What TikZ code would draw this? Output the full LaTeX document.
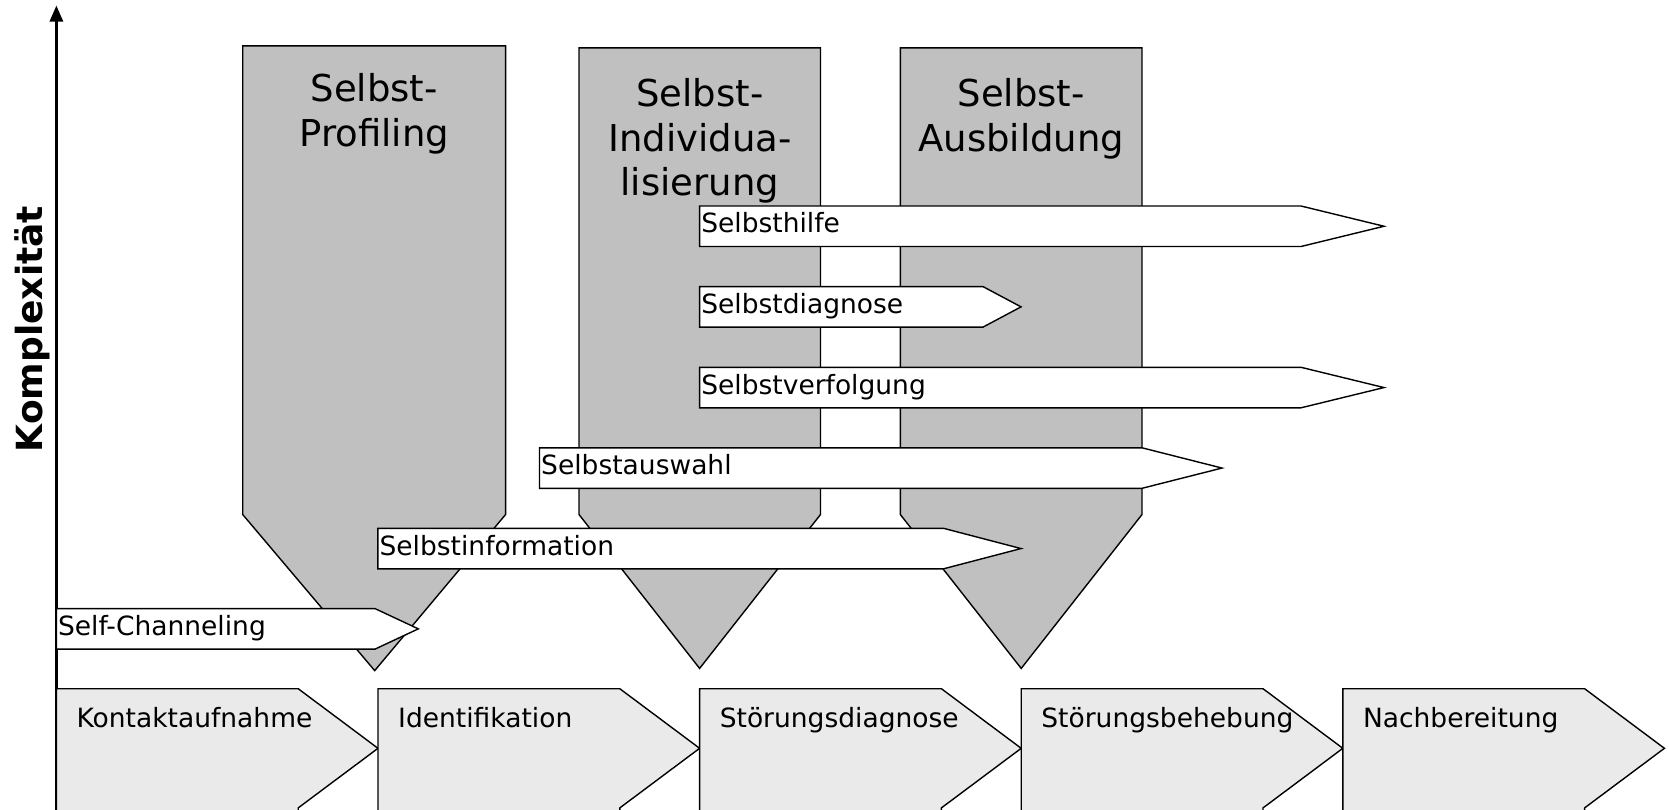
\documentclass[tikz,border=0pt]{standalone}
\usepackage{fontspec}
\setmainfont{DejaVu Sans}
\usetikzlibrary{arrows.meta}
\definecolor{boxgray}{RGB}{192,192,192}
\definecolor{procgray}{RGB}{234,234,234}
\tikzset{
  colbox/.style={draw=black, fill=boxgray, line width=1.4pt, line join=miter},
  sarrow/.style={draw=black, fill=white, line width=1.4pt, line join=miter},
  proc/.style={draw=black, fill=procgray, line width=1.4pt, line join=miter},
  ttl/.style={font=\fontsize{37}{44.5}\selectfont, align=center, anchor=north, inner sep=0pt},
  alabel/.style={font=\fontsize{26.5}{30}\selectfont, anchor=base west, inner sep=0pt},
  plabel/.style={font=\fontsize{26.5}{30}\selectfont, anchor=base west, inner sep=0pt},
  axislabel/.style={font=\fontsize{36}{40}\selectfont\bfseries, rotate=90, inner sep=0pt},
  axisline/.style={line width=2.8pt, -{Triangle[length=16pt,width=13pt]}},
}
\newcommand\sarr[6]{%
  \pgfmathsetmacro\ya{#5}\pgfmathsetmacro\yb{#5+40.5}%
  \pgfmathsetmacro\ym{#5+20.25}\pgfmathsetmacro\yt{#5+26.75}%
  \draw[sarrow] (#2,\ya) -- (#3,\ya) -- (#4,\ym) -- (#3,\yb) -- (#2,\yb) -- cycle;
  \node[alabel] (#1) at (#2+1.5,\yt) {#6};%
}
\newcommand\procstep[3]{%
  \pgfmathsetmacro\xa{#2}\pgfmathsetmacro\xb{#2+241.8}\pgfmathsetmacro\xc{#2+321.6}%
  \draw[proc] (\xa,688.7) -- (\xb,688.7) -- (\xc,748.3) -- (\xb,807.9) -- (\xb,812) -- (\xa,812) -- cycle;
  \node[plabel] (#1) at (\xa+20,727) {#3};%
}
\begin{document}
\begin{tikzpicture}[x=1pt,y=-1pt]
\useasboundingbox (0,0) rectangle (1669,809);

% axis
\coordinate (axbottom) at (56.4,812);
\coordinate (axtop) at (56.4,5.5);
\draw[axisline] (axbottom) -- (axtop);
\node[axislabel] (komplex) at (32,329) {Komplexität};

% gray boxes
\draw[colbox] (242.7,45.8) -- (505.6,45.8) -- (505.6,514.5) -- (374.7,670.6) -- (242.7,514.5) -- cycle;
\draw[colbox] (579,47.9) -- (820.5,47.9) -- (820.5,514.5) -- (699.6,668.4) -- (579,514.5) -- cycle;
\draw[colbox] (900.3,47.9) -- (1142,47.9) -- (1142,514.5) -- (1021.2,668.4) -- (900.3,514.5) -- cycle;

\node[ttl] (tprof) at (374.2,73.5) {Selbst-\\Profiling};
\node[ttl] (tind) at (699.8,78.5) {Selbst-\\Individua-\\lisierung};
\node[ttl] (taus) at (1021.2,78.5) {Selbst-\\Ausbildung};

% white arrows
\sarr{hilfe}{699.6}{1301}{1384}{206}{Selbsthilfe}
\sarr{diag}{699.6}{983}{1021}{286.6}{Selbstdiagnose}
\sarr{verf}{699.6}{1301}{1384}{367.3}{Selbstverfolgung}
\sarr{ausw}{539.5}{1142}{1222}{447.8}{Selbstauswahl}
\sarr{info}{377.9}{943.5}{1021}{528.3}{Selbstinformation}
\sarr{chan}{56.4}{375}{418.3}{608.6}{Self-Channeling}

% process chevrons
\procstep{p1}{56.4}{Kontaktaufnahme}
\procstep{p2}{378.0}{Identifikation}
\procstep{p3}{699.6}{Störungsdiagnose}
\procstep{p4}{1021.2}{Störungsbehebung}
\procstep{p5}{1342.8}{Nachbereitung}
\end{tikzpicture}
\end{document}
